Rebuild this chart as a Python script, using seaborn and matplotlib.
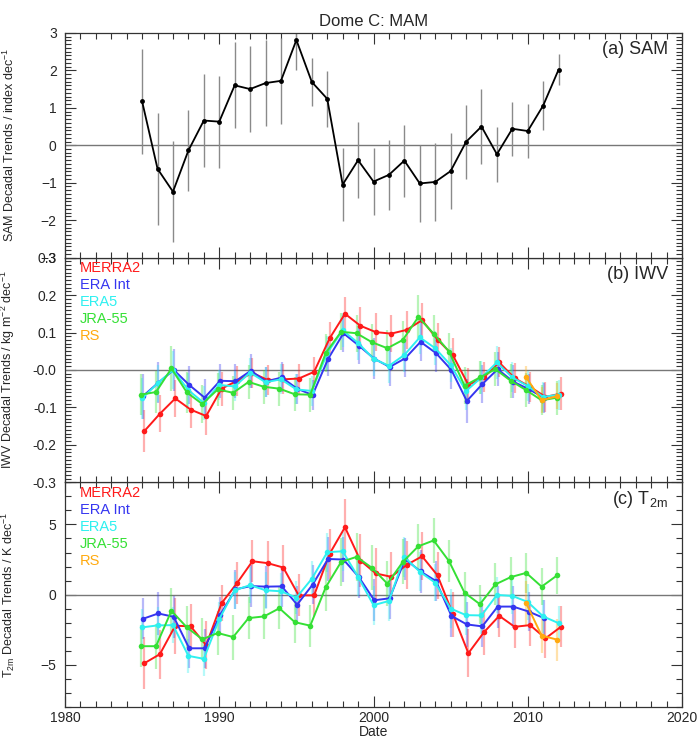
import numpy as np
import pandas as pd
import matplotlib
matplotlib.use("Agg")
import matplotlib.pyplot as plt
from matplotlib.ticker import MultipleLocator
import seaborn as sns

# ---------------- data ----------------
years = list(range(1985, 2013))          # 28 trend windows
years_eraint = list(range(1985, 2012))   # 27
years_rs = [2010, 2011, 2012]

sam = [1.17, -0.63, -1.24, -0.14, 0.66, 0.63, 1.60, 1.50, 1.66, 1.72, 2.81, 1.69, 1.24, -1.05,
       -0.40, -0.97, -0.79, -0.41, -1.02, -0.98, -0.69, 0.09, 0.50, -0.24, 0.44, 0.38, 1.06, 2.02]
sam_err = [1.41, 1.49, 1.35, 1.07, 1.23, 1.23, 1.15, 1.15, 1.15, 1.14, 0.81, 0.65, 0.75, 0.97,
           1.01, 0.90, 0.94, 0.96, 1.04, 1.04, 1.02, 0.99, 0.99, 0.73, 0.72, 0.72, 0.65, 0.41]

iwv_merra2 = [-0.163, -0.117, -0.076, -0.106, -0.123, -0.050, -0.029, -0.008, -0.027, -0.025, -0.023, -0.005,
              0.084, 0.150, 0.118, 0.101, 0.097, 0.107, 0.133, 0.081, 0.039, -0.040, -0.020, 0.020,
              -0.022, -0.045, -0.072, -0.063]
iwv_eraint = [-0.070, -0.034, 0.000, -0.040, -0.074, -0.029, -0.030, -0.002, -0.031, -0.020, -0.050, -0.067,
              0.029, 0.098, 0.065, 0.030, 0.008, 0.031, 0.075, 0.045, 0.000, -0.083, -0.038, 0.002,
              -0.031, -0.051, -0.074]
iwv_era5 = [-0.076, -0.036, 0.000, -0.054, -0.088, -0.040, -0.044, -0.007, -0.033, -0.025, -0.052, -0.056,
            0.045, 0.106, 0.072, 0.030, 0.011, 0.040, 0.087, 0.058, 0.013, -0.056, -0.020, 0.020,
            -0.020, -0.043, -0.072, -0.066]
iwv_jra55 = [-0.066, -0.059, 0.004, -0.060, -0.091, -0.052, -0.061, -0.032, -0.045, -0.050, -0.065, -0.066,
             0.045, 0.102, 0.098, 0.074, 0.058, 0.080, 0.141, 0.097, 0.049, -0.042, -0.020, 0.002,
             -0.029, -0.054, -0.081, -0.074]
iwv_rs = [-0.020, -0.081, -0.070]

iwv_merra2_err = [0.055, 0.05, 0.05, 0.05, 0.05, 0.045, 0.04, 0.04, 0.04, 0.04, 0.04, 0.04, 0.045, 0.045,
                  0.05, 0.05, 0.05, 0.05, 0.045, 0.045, 0.045, 0.045, 0.04, 0.04, 0.04, 0.04, 0.04, 0.045]
iwv_eraint_err = [0.06, 0.055, 0.055, 0.05, 0.05, 0.045, 0.045, 0.045, 0.04, 0.04, 0.04, 0.04, 0.045, 0.05,
                  0.05, 0.055, 0.05, 0.05, 0.05, 0.05, 0.05, 0.058, 0.05, 0.045, 0.045, 0.04, 0.04]
iwv_era5_err = [0.055, 0.05, 0.05, 0.045, 0.045, 0.04, 0.04, 0.04, 0.04, 0.04, 0.04, 0.04, 0.045, 0.045,
                0.045, 0.045, 0.045, 0.045, 0.045, 0.045, 0.045, 0.05, 0.045, 0.045, 0.04, 0.04, 0.04, 0.04]
iwv_jra55_err = [0.055, 0.055, 0.06, 0.055, 0.05, 0.045, 0.045, 0.045, 0.045, 0.045, 0.045, 0.045, 0.05, 0.05,
                 0.05, 0.05, 0.05, 0.05, 0.058, 0.05, 0.05, 0.05, 0.045, 0.045, 0.045, 0.045, 0.04, 0.045]
iwv_rs_err = [0.03, 0.035, 0.035]

t2m_merra2 = [-4.88, -4.24, -2.21, -2.26, -3.60, -0.61, 0.82, 2.38, 2.24, 1.93, -0.05, -0.05, 2.90, 4.80,
              2.43, 1.51, 1.27, 2.12, 2.73, 1.37, -1.39, -4.17, -2.69, -1.51, -2.29, -2.17, -3.11, -2.29]
t2m_eraint = [-1.72, -1.34, -1.58, -3.82, -3.82, -1.46, 0.38, 0.61, 0.57, 0.59, -0.71, 0.71, 2.54, 2.50,
              1.25, -0.40, -0.26, 2.54, 1.65, 0.97, -1.51, -2.12, -2.26, -0.85, -0.85, -1.20, -1.67]
t2m_era5 = [-2.33, -2.19, -2.17, -4.36, -4.57, -1.74, 0.31, 0.68, 0.31, 0.24, -0.21, 1.13, 3.02, 3.09,
            1.27, -0.75, -0.45, 2.69, 1.63, 0.85, -0.99, -1.46, -1.48, -0.02, -0.09, -0.52, -1.55, -2.03]
t2m_jra55 = [-3.67, -3.67, -1.15, -2.33, -3.18, -2.73, -3.02, -1.67, -1.55, -0.97, -1.96, -2.21, 0.52, 2.33,
             2.69, 1.91, 0.78, 2.33, 3.44, 3.86, 2.38, 0.14, -0.68, 0.73, 1.25, 1.55, 0.57, 1.37]
t2m_rs = [-0.61, -2.92, -3.20]

t2m_merra2_err = [1.85, 1.75, 2.0, 1.6, 1.7, 1.3, 1.5, 1.5, 1.55, 1.6, 1.5, 1.5, 1.8, 2.0,
                  1.9, 1.8, 1.8, 1.7, 1.7, 1.7, 1.6, 1.7, 1.6, 1.5, 1.5, 1.5, 1.4, 1.45]
t2m_eraint_err = [1.45, 1.5, 1.5, 1.4, 1.4, 1.3, 1.4, 1.5, 1.5, 1.45, 1.3, 1.4, 1.6, 1.6,
                  1.5, 1.5, 1.5, 1.5, 1.5, 1.4, 1.5, 1.6, 1.5, 1.5, 1.5, 1.4, 1.3]
t2m_era5_err = [1.3, 1.3, 1.3, 1.2, 1.2, 1.2, 1.3, 1.3, 1.3, 1.3, 1.2, 1.3, 1.4, 1.4,
                1.4, 1.4, 1.4, 1.4, 1.4, 1.3, 1.4, 1.4, 1.3, 1.3, 1.3, 1.3, 1.2, 1.2]
t2m_jra55_err = [1.5, 1.6, 1.6, 1.5, 1.5, 1.6, 1.6, 1.5, 1.6, 1.5, 1.5, 1.5, 1.7, 1.7,
                 1.7, 1.6, 1.6, 1.6, 1.6, 1.6, 1.5, 1.5, 1.4, 1.5, 1.4, 1.4, 1.3, 1.3]
t2m_rs_err = [1.6, 1.2, 1.5]

names = ["MERRA2", "ERA Int", "ERA5", "JRA-55", "RS"]
sam_ticks = [-3, -2, -1, 0, 1, 2, 3]
iwv_ticks = [-0.3, -0.2, -0.1, 0.0, 0.1, 0.2, 0.3]
iwv_ticklabels = ["-0.3", "-0.2", "-0.1", "-0.0", "0.1", "0.2", "0.3"]
t2m_ticks = [-5, 0, 5]
x_ticks = [1980, 1990, 2000, 2010, 2020]

# ---------------- style ----------------
sns.set_theme(style="ticks")
plt.rcParams["font.family"] = ["Liberation Sans", "DejaVu Sans"]
plt.rcParams["mathtext.fontset"] = "custom"
plt.rcParams["mathtext.rm"] = "Liberation Sans"
plt.rcParams["mathtext.default"] = "regular"

colors = ["#ff1a1a", "#3535f0", "#2ef0f0", "#35e035", "#ffaa10"]
dodge = [0.15, 0.05, 0.0, -0.1, -0.1]

fig = plt.figure(figsize=(6.97, 7.42), dpi=100)
left, width = 65 / 697, 617 / 697
h = 224.7 / 742
bottom0 = 1 - 707 / 742
axc = fig.add_axes([left, bottom0, width, h])
axb = fig.add_axes([left, bottom0 + h, width, h])
axa = fig.add_axes([left, bottom0 + 2 * h, width, h])


def style_axis(ax, ylim, yticks, yminor, ylabels=None, xlabels=False):
    ax.set_xlim(1980, 2020)
    ax.set_ylim(*ylim)
    ax.set_xticks(x_ticks)
    ax.xaxis.set_minor_locator(MultipleLocator(1))
    ax.set_yticks(yticks)
    if ylabels is not None:
        ax.set_yticklabels(ylabels)
    ax.yaxis.set_minor_locator(MultipleLocator(yminor))
    ax.tick_params(which="both", direction="in", top=True, right=True, color="#333333",
                   labelsize=10, width=0.8)
    ax.tick_params(which="major", length=8, pad=6)
    ax.tick_params(which="minor", length=4)
    ax.tick_params(axis="x", which="major", pad=3)
    if not xlabels:
        ax.set_xticklabels([])
    for s in ax.spines.values():
        s.set_color("#333333")
        s.set_linewidth(0.9)
    ax.axhline(0, color="#777777", lw=1.0, zorder=1)
    ax.set_xlabel("")


# ---- panel (a) ----
xs = np.array(years, dtype=float)
axa.vlines(xs, np.array(sam) - np.array(sam_err), np.array(sam) + np.array(sam_err),
           color="#8a8a8a", lw=1.0, zorder=2)
sns.lineplot(x=xs, y=sam, ax=axa, color="black", lw=1.3, marker="o", markersize=3.5,
             markeredgewidth=0, zorder=3, estimator=None, sort=False)
style_axis(axa, (-3, 3), sam_ticks, 0.1)
axa.set_title("Dome C: MAM", fontsize=12, pad=5)
axa.text(0.977, 0.925, "(a) SAM", transform=axa.transAxes, ha="right", va="center", fontsize=13)
axa.set_ylabel("SAM Decadal Trends / index dec$^{-1}$", fontsize=9)


def panel(ax, series, errs, yrs_list):
    for i, (vals, err, yrs) in enumerate(zip(series, errs, yrs_list)):
        x = np.array(yrs, dtype=float) + dodge[i]
        v = np.array(vals)
        e = np.array(err)
        ax.vlines(x, v - e, v + e, color=colors[i], alpha=0.35, lw=1.6, zorder=2)
    for i, (vals, err, yrs) in enumerate(zip(series, errs, yrs_list)):
        x = np.array(yrs, dtype=float) + dodge[i]
        sns.lineplot(x=x, y=vals, ax=ax, color=colors[i], lw=1.4, marker="o", markersize=4,
                     markeredgewidth=0, zorder=3 + i, estimator=None, sort=False)
    for i, n in enumerate(names):
        ax.text(0.024, 0.952 - i * 0.0757, n, transform=ax.transAxes, color=colors[i],
                fontsize=10.5, ha="left", va="center")


yrs_list = [years, years_eraint, years, years, years_rs]

# ---- panel (b) ----
panel(axb, [iwv_merra2, iwv_eraint, iwv_era5, iwv_jra55, iwv_rs],
      [iwv_merra2_err, iwv_eraint_err, iwv_era5_err, iwv_jra55_err, iwv_rs_err], yrs_list)
style_axis(axb, (-0.3, 0.3), iwv_ticks, 0.01, ylabels=iwv_ticklabels)
axb.text(0.977, 0.925, "(b) IWV", transform=axb.transAxes, ha="right", va="center", fontsize=13)
axb.set_ylabel("IWV Decadal Trends / kg m$^{-2}$ dec$^{-1}$", fontsize=9)

# ---- panel (c) ----
panel(axc, [t2m_merra2, t2m_eraint, t2m_era5, t2m_jra55, t2m_rs],
      [t2m_merra2_err, t2m_eraint_err, t2m_era5_err, t2m_jra55_err, t2m_rs_err], yrs_list)
style_axis(axc, (-8, 8), t2m_ticks, 1, xlabels=True)
axc.text(0.977, 0.925, "(c) T$_{2m}$", transform=axc.transAxes, ha="right", va="center", fontsize=13)
axc.set_ylabel("T$_{2m}$ Decadal Trends / K dec$^{-1}$", fontsize=9)
axc.set_xlabel("Date", fontsize=10, labelpad=0)

for ax in (axa, axb, axc):
    ax.yaxis.set_label_coords(-0.078, 0.5)

fig.savefig("out.png", dpi=100)
